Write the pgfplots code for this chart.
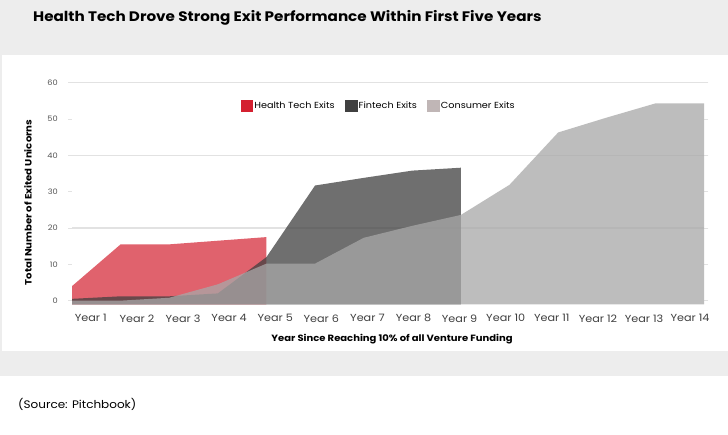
\documentclass[border=0pt]{standalone}
\usepackage{pgfplots}
\pgfplotsset{compat=1.18}
\usepackage{fontspec}
\setmainfont{Poppins}[FakeStretch=1.1]

\definecolor{bggray}{HTML}{EDEDED}
\definecolor{gridgray}{HTML}{E2E2E2}
\definecolor{ticktext}{HTML}{555555}
\definecolor{healthred}{HTML}{D42030}
\definecolor{fintechdark}{HTML}{404040}
\definecolor{consumergray}{HTML}{A8A8A8}
\definecolor{consumerkey}{HTML}{C0B6B6}

\begin{document}
\begin{tikzpicture}
\useasboundingbox (0,0) rectangle (728pt,435pt);
% page background
\fill[bggray] (0,0) rectangle (728pt,435pt);
\fill[white] (2pt,84pt) rectangle (728pt,380pt);
\fill[white] (0,0) rectangle (728pt,59pt);

\node[anchor=base west, font=\bfseries\fontsize{13.8}{15}\selectfont, inner sep=0pt]
  at (33pt,413pt) {Health Tech Drove Strong Exit Performance Within First Five Years};
\node[anchor=base west, font=\fontsize{10.9}{12}\selectfont, inner sep=0pt]
  at (18pt,26pt) {(Source: Pitchbook)};

\begin{axis}[
  at={(72pt,130.7pt)}, anchor=south west,
  scale only axis, width=632pt, height=221.6pt,
  xmin=0, xmax=13, ymin=-1, ymax=60,
  axis line style={draw=none},
  xtick={0.387,1.335,2.284,3.232,4.180,5.128,6.077,7.025,7.973,8.921,9.870,10.818,11.766,12.714},
  xticklabels={Year 1,Year 2,Year 3,Year 4,Year 5,Year 6,Year 7,Year 8,Year 9,Year 10,Year 11,Year 12,Year 13,Year 14},
  x tick style={draw=none},
  xticklabel style={font=\fontsize{10.2}{12}\selectfont, color=black!75, anchor=center, yshift=-10pt},
  ytick={0,10,...,60},
  y tick style={draw=gridgray, line width=1pt},
  tick align=outside, major tick length=4pt,
  yticklabel style={font=\fontsize{7.5}{9}\selectfont, color=ticktext, anchor=east, inner sep=0pt, xshift=-10pt},
  /pgf/number format/assume math mode=true,
  extra y ticks={20,40,60}, extra y tick labels={},
  extra y tick style={grid=major, major grid style={draw=gridgray, line width=1.2pt}},
  legend style={at={(0.485,0.897)}, anchor=center, draw=none, fill=none,
    font=\fontsize{8.8}{10}\selectfont, legend columns=3,
    /tikz/every even column/.append style={column sep=9pt},
    inner sep=0pt, nodes={inner sep=1.5pt}},
  legend cell align=left,
  clip=false,
]
\addlegendimage{legend image code/.code={\fill[healthred] (0pt,-5.8pt) rectangle (11.6pt,5.8pt);}}
\addlegendentry{Health Tech Exits}
\addlegendimage{legend image code/.code={\fill[fintechdark] (0pt,-5.8pt) rectangle (11.6pt,5.8pt);}}
\addlegendentry{Fintech Exits}
\addlegendimage{legend image code/.code={\fill[consumerkey] (0pt,-5.8pt) rectangle (11.6pt,5.8pt);}}
\addlegendentry{Consumer Exits}

% Health tech exits
\addplot[forget plot, draw=none, fill=healthred, fill opacity=0.7]
  coordinates {(0,-1)(0,4)(1,15.5)(2,15.5)(3,16.5)(4,17.5)(4,-1)} -- cycle;
% Fintech exits
\addplot[forget plot, draw=none, fill=fintechdark, fill opacity=0.75]
  coordinates {(0,-1)(0,0.5)(1,1.2)(2,1.2)(3,2)(4,12)(5,31.7)(6,33.8)(7,35.8)(8,36.6)(8,-1)} -- cycle;
% Consumer exits
\addplot[forget plot, draw=none, fill=consumergray, fill opacity=0.75]
  coordinates {(0,-1)(0,0)(1,0)(2,0.8)(3,4.5)(4,10.2)(5,10.2)(6,17.3)(7,20.6)(8,23.6)(9,31.9)(10,46.3)(11,50.4)(12,54.3)(13,54.3)(13,-1)} -- cycle;
\end{axis}

\node[anchor=center, font=\bfseries\fontsize{9.1}{10}\selectfont]
  at (392pt,96pt) {Year Since Reaching 10\% of all Venture Funding};
\node[anchor=center, rotate=90, font=\bfseries\fontsize{9.2}{10}\selectfont]
  at (28pt,232.5pt) {Total Number of Exited Unicorns};
\end{tikzpicture}
\end{document}
